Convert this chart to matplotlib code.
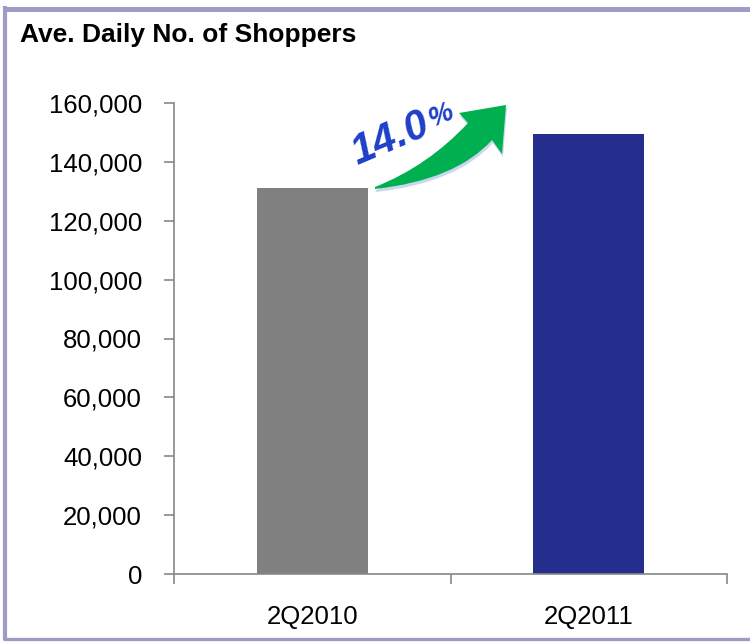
import matplotlib
matplotlib.use("Agg")
import matplotlib.pyplot as plt
from matplotlib.path import Path
from matplotlib.patches import PathPatch
from matplotlib.lines import Line2D
from matplotlib.ticker import FuncFormatter, MultipleLocator

# Data
categories = ["2Q2010", "2Q2011"]
shoppers = [131000, 149300]
bar_colors = ["#808080", "#252E8C"]
growth_label = "14.0"

W, H = 750, 642
plt.rcParams["font.family"] = ["Liberation Sans", "DejaVu Sans"]

fig = plt.figure(figsize=(W / 100, H / 100), dpi=100)
ax = fig.add_axes([174 / W, 1 - 574 / H, (727 - 174) / W, (574 - 103) / H])

x = list(range(len(categories)))
ax.bar(x, shoppers, width=0.40, color=bar_colors, zorder=2)

ax.set_xlim(-0.5, 1.5)
ax.set_ylim(0, 160000)
ax.yaxis.set_major_locator(MultipleLocator(20000))
ax.yaxis.set_major_formatter(FuncFormatter(lambda v, p: f"{int(v):,}"))

ax.set_xticks([-0.5, 0.5, 1.5])
ax.set_xticklabels([])
ax.set_xticks(x, minor=True)
ax.set_xticklabels(categories, minor=True)
ax.tick_params(axis="x", which="minor", length=0, pad=22, labelsize=18.5)
ax.tick_params(axis="x", which="major", length=7, color="#888888", width=1.2, direction="out")
ax.tick_params(axis="y", length=7, color="#888888", width=1.2, labelsize=18.5, pad=16)

for side in ("top", "right"):
    ax.spines[side].set_visible(False)
for side in ("left", "bottom"):
    ax.spines[side].set_color("#888888")
    ax.spines[side].set_linewidth(1.2)


def fp(px, py):
    """Convert layout pixel position to figure fraction."""
    return (px / W, 1 - py / H)


# Growth arrow
pts = [(375, 187), (428, 166), (468, 123), (459, 113), (506, 105),
       (502, 154), (492, 140), (456, 180), (375, 189), (375, 187)]
codes = [Path.MOVETO, Path.CURVE3, Path.CURVE3, Path.LINETO, Path.LINETO,
         Path.LINETO, Path.LINETO, Path.CURVE3, Path.CURVE3, Path.CLOSEPOLY]
shadow = Path([fp(px + 1, py + 3) for px, py in pts], codes)
arrow = Path([fp(px, py) for px, py in pts], codes)
fig.patches.append(PathPatch(shadow, transform=fig.transFigure,
                             facecolor="#C9D7EE", edgecolor="none", zorder=3))
fig.patches.append(PathPatch(arrow, transform=fig.transFigure,
                             facecolor="#00B050", edgecolor="none", zorder=4))

fig.text(*fp(390, 139), growth_label, rotation=23, ha="center", va="center",
         fontsize=30, fontweight="bold", fontstyle="italic", color="#1F3FC9",
         rotation_mode="anchor")
fig.text(*fp(441, 116), "%", rotation=23, ha="center", va="center",
         fontsize=20, fontweight="bold", fontstyle="italic", color="#1F3FC9",
         rotation_mode="anchor")

# Title
fig.text(*fp(20, 42), "Ave. Daily No. of Shoppers", ha="left", va="baseline",
         fontsize=19, fontweight="bold", color="black")

# Frame
frame_color = "#9C9CC4"
fig.lines.append(Line2D([3 / W, 1], [1 - 8.5 / H] * 2, transform=fig.transFigure,
                        color=frame_color, linewidth=3.6, solid_capstyle="butt"))
fig.lines.append(Line2D([5 / W] * 2, [1 - 6 / H, 1 - 640 / H], transform=fig.transFigure,
                        color=frame_color, linewidth=3.0, solid_capstyle="butt"))
fig.lines.append(Line2D([3 / W, 1], [1 - 638.5 / H] * 2, transform=fig.transFigure,
                        color=frame_color, linewidth=2.4, solid_capstyle="butt"))

fig.savefig("out.png", dpi=100)
